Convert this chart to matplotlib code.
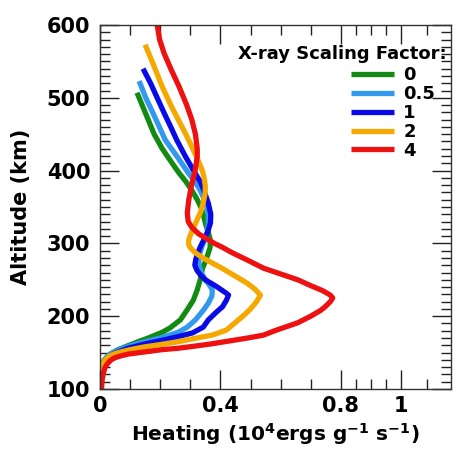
import matplotlib
matplotlib.use("Agg")
import matplotlib.pyplot as plt

plt.rcParams['font.family'] = ['DejaVu Sans']
plt.rcParams['font.weight'] = 'bold'
plt.rcParams['mathtext.default'] = 'bf'

labels = ["0", "0.5", "1", "2", "4"]
colors = ["#138a13", "#3399ee", "#0a0ae6", "#f5a800", "#ee1111"]

alt_0 = [507, 490, 470, 450, 430, 410, 397, 385, 373, 360, 350, 340, 328, 315, 305, 295, 287, 275, 265, 250, 235, 222, 209, 195, 184, 178, 170, 165, 159, 154, 149, 145, 140, 135, 125, 100]
heat_0 = [0.123, 0.14, 0.16, 0.18, 0.207, 0.24, 0.262, 0.285, 0.305, 0.323, 0.335, 0.343, 0.35, 0.36, 0.366, 0.366, 0.36, 0.35, 0.34, 0.333, 0.322, 0.31, 0.29, 0.267, 0.233, 0.207, 0.16, 0.127, 0.09, 0.06, 0.038, 0.025, 0.015, 0.008, 0.003, 0.0]

alt_05 = [523, 500, 480, 460, 442, 420, 397, 385, 373, 360, 350, 340, 328, 315, 305, 295, 287, 277, 268, 260, 250, 242, 236, 228, 218, 208, 195, 185, 178, 170, 165, 160, 155, 150, 147, 140, 135, 125, 100]
heat_05 = [0.13, 0.152, 0.175, 0.197, 0.217, 0.255, 0.293, 0.315, 0.333, 0.347, 0.355, 0.36, 0.36, 0.356, 0.348, 0.338, 0.332, 0.328, 0.33, 0.336, 0.35, 0.365, 0.373, 0.372, 0.36, 0.343, 0.317, 0.29, 0.26, 0.2, 0.15, 0.105, 0.07, 0.045, 0.03, 0.017, 0.01, 0.003, 0.0]

alt_1 = [540, 520, 500, 480, 460, 442, 420, 397, 385, 373, 355, 340, 328, 315, 305, 295, 287, 278, 270, 263, 256, 250, 240, 232, 229, 222, 213, 205, 195, 185, 177, 172, 167, 162, 156, 150, 147, 140, 135, 125, 100]
heat_1 = [0.143, 0.168, 0.19, 0.212, 0.235, 0.255, 0.283, 0.315, 0.333, 0.345, 0.36, 0.368, 0.367, 0.357, 0.345, 0.333, 0.325, 0.318, 0.315, 0.322, 0.335, 0.35, 0.39, 0.418, 0.427, 0.42, 0.407, 0.385, 0.36, 0.343, 0.307, 0.26, 0.207, 0.15, 0.093, 0.055, 0.04, 0.02, 0.012, 0.004, 0.0]

alt_2 = [573, 545, 515, 490, 470, 450, 431, 415, 400, 390, 378, 368, 360, 346, 330, 318, 310, 305, 300, 295, 287, 280, 273, 266, 259, 252, 245, 237, 229, 220, 210, 202, 195, 188, 181, 174, 170, 165, 161, 158, 154, 150, 147, 143, 138, 133, 120, 100]
heat_2 = [0.15, 0.178, 0.207, 0.235, 0.26, 0.285, 0.307, 0.325, 0.34, 0.346, 0.35, 0.349, 0.345, 0.337, 0.32, 0.307, 0.299, 0.295, 0.294, 0.298, 0.317, 0.342, 0.373, 0.405, 0.433, 0.462, 0.49, 0.515, 0.533, 0.52, 0.5, 0.48, 0.46, 0.44, 0.42, 0.373, 0.32, 0.26, 0.2, 0.15, 0.1, 0.06, 0.04, 0.025, 0.014, 0.008, 0.002, 0.0]

alt_4 = [600, 580, 561, 540, 515, 490, 470, 450, 430, 419, 400, 380, 360, 342, 330, 322, 313, 305, 300, 295, 287, 277, 266, 258, 250, 242, 235, 229, 225, 220, 213, 208, 200, 191, 185, 180, 174, 170, 166, 162, 159, 156, 154, 151, 148, 145, 143, 140, 136, 130, 120, 112, 100]
heat_4 = [0.19, 0.198, 0.213, 0.235, 0.263, 0.288, 0.305, 0.317, 0.323, 0.323, 0.316, 0.304, 0.295, 0.29, 0.293, 0.305, 0.328, 0.36, 0.38, 0.405, 0.44, 0.49, 0.543, 0.6, 0.657, 0.7, 0.74, 0.765, 0.773, 0.765, 0.748, 0.733, 0.7, 0.657, 0.615, 0.58, 0.543, 0.49, 0.43, 0.37, 0.317, 0.26, 0.205, 0.15, 0.094, 0.065, 0.05, 0.037, 0.027, 0.017, 0.01, 0.007, 0.005]

series = [(alt_0, heat_0), (alt_05, heat_05), (alt_1, heat_1), (alt_2, heat_2), (alt_4, heat_4)]

x_major = [0, 0.4, 0.8, 1.0]
x_major_labels = ["0", "0.4", "0.8", "1"]
x_minor = [0.1, 0.2, 0.3, 0.5, 0.6, 0.7, 0.85, 0.9, 0.95, 1.087]
y_major = [100, 200, 300, 400, 500, 600]

fig = plt.figure(figsize=(4.58, 4.5), dpi=100)
ax = fig.add_axes([100/458, 61/450, 351/458, 364/450])

for (a, h), c, lab in zip(series, colors, labels):
    ax.plot(h, a, color=c, lw=3.8, label=lab, solid_joinstyle='round', solid_capstyle='butt')

ax.set_xlim(0, 1.166)
ax.set_ylim(100, 600)
ax.set_xticks(x_major)
ax.set_xticklabels(x_major_labels)
ax.set_xticks(x_minor, minor=True)
ax.set_yticks(y_major)
ax.set_yticks([v for v in range(100, 601, 10) if v % 100], minor=True)

ax.tick_params(which='both', direction='in', top=True, right=True, color='#222222', width=1.0)
ax.tick_params(which='major', length=14, labelsize=15)
ax.tick_params(axis='y', which='major', pad=7)
ax.tick_params(axis='x', which='major', pad=5)
ax.tick_params(which='minor', length=7)
for lab in ax.get_xticklabels() + ax.get_yticklabels():
    lab.set_fontweight('bold')
for sp in ax.spines.values():
    sp.set_color('#333333')
    sp.set_linewidth(1.0)

ax.set_ylabel("Altitude (km)", fontsize=15, fontweight='bold', labelpad=11)
ax.set_xlabel(r"Heating (10$^{4}$ergs g$^{-1}$ s$^{-1}$)", fontsize=14.5, fontweight='bold', labelpad=4)

ax.text(0.9886, 0.921, "X-ray Scaling Factor:", transform=ax.transAxes, ha='right', va='center',
        fontsize=13, fontweight='bold')
leg = ax.legend(loc='upper left', bbox_to_anchor=(0.715, 0.887), bbox_transform=ax.transAxes,
                frameon=False, handlelength=2.4, handletextpad=0.5,
                labelspacing=0.05, borderpad=0, borderaxespad=0, prop={'weight': 'bold', 'size': 13})

fig.savefig("out.png", dpi=100)
